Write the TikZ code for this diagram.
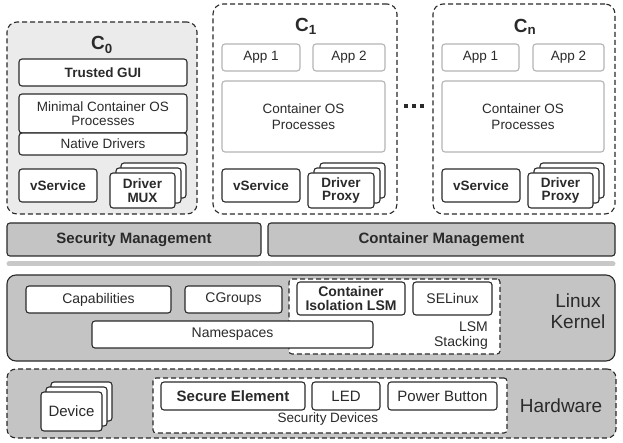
\documentclass[tikz,border=0pt]{standalone}
\usepackage{fontspec}
\setmainfont{Liberation Sans}
\definecolor{dk}{HTML}{2A2A2A}
\definecolor{midgray}{HTML}{C4C4C4}
\definecolor{lightfill}{HTML}{EBEBEB}
\definecolor{sepgray}{HTML}{C8C8C8}
\definecolor{litborder}{HTML}{B4B4B4}
\newcommand\fs[1]{\fontsize{#1}{#1}\selectfont}
\newcommand\bx[7]{\node[#1, anchor=north west, minimum width={(#5)-(#3)}, minimum height={(#6)-(#4)}] (#2) at (#3,#4) {#7};}
\tikzset{
  x=1pt, y=-1pt,
  base/.style={inner sep=1pt, outer sep=0pt, align=center, text=dk, line width=1.1pt},
  wbox/.style={base, draw=dk, fill=white, rounded corners=3pt, font=\fs{13.5}},
  wboxb/.style={wbox, font=\fs{13.5}\bfseries},
  kbox/.style={wbox, font=\fs{14}},
  kboxb/.style={wbox, font=\fs{14}\bfseries},
  hbox/.style={wbox, font=\fs{15}},
  hboxb/.style={wbox, font=\fs{15}\bfseries},
  lbox/.style={base, draw=litborder, fill=white, rounded corners=3pt, font=\fs{13.5}},
  contbox/.style={base, draw=dk, dash pattern=on 5pt off 3pt, rounded corners=10pt},
  mgmt/.style={base, draw=dk, fill=midgray, rounded corners=3pt, font=\fs{15}\bfseries},
  layer/.style={base, draw=dk, fill=midgray, rounded corners=9pt},
  dashwhite/.style={base, draw=dk, fill=white, dash pattern=on 5pt off 3pt, rounded corners=3pt},
  ctitle/.style={text=dk, font=\fs{19}\bfseries, inner sep=0pt},
  big/.style={text=dk, font=\fs{19}, align=center, inner sep=0pt},
  small/.style={text=dk, font=\fs{14}, align=right, inner sep=0pt},
}
\begin{document}
\begin{tikzpicture}
\useasboundingbox (0,0) rectangle (623,443);
\fill[white] (0,0) rectangle (623,443);

% ---------- C0 ----------
\bx{contbox, fill=lightfill}{c0}{7}{22}{197}{214}{}
\node[ctitle] (c0t) at (102,45) {C\textsubscript{0}};
\bx{wboxb}{tgui}{19}{59}{187}{86}{Trusted GUI}
\bx{wbox}{minos}{19}{94}{187}{133}{Minimal Container OS\\[1pt]Processes}
\bx{wbox}{natdrv}{19}{133}{187}{155}{Native Drivers}
\bx{wboxb}{vs0}{19}{169}{97}{202}{vService}
\bx{wbox}{mux2}{121}{163}{186}{198}{}
\bx{wbox}{mux1}{116}{168}{181}{203}{}
\bx{wboxb}{mux}{110}{173}{175}{208}{Driver\\MUX}

% ---------- C1 ----------
\bx{contbox}{c1}{213}{4}{397}{214}{}
\node[ctitle] (c1t) at (306,26) {C\textsubscript{1}};
\bx{lbox}{app11}{222}{44}{300}{71}{App 1}
\bx{lbox}{app12}{313}{44}{385}{71}{App 2}
\bx{lbox}{cos1}{222}{81}{385}{152}{Container OS\\[2pt]Processes}
\bx{wboxb}{vs1}{222}{169}{300}{202}{vService}
\bx{wbox}{px12}{320}{163}{385}{198}{}
\bx{wbox}{px11}{314}{168}{380}{203}{}
\bx{wboxb}{px1}{308}{173}{374}{208}{Driver\\Proxy}

% ---------- dots ----------
\foreach \dx/\nm in {406/d1,414/d2,422/d3}{
  \node[fill=dk, inner sep=0pt, minimum size=3.6pt] (\nm) at (\dx,106) {};
}

% ---------- Cn ----------
\bx{contbox}{cn}{433}{4}{615}{214}{}
\node[ctitle] (cnt) at (525,27) {C\textsubscript{n}};
\bx{lbox}{appn1}{442}{44}{519}{71}{App 1}
\bx{lbox}{appn2}{533}{44}{604}{71}{App 2}
\bx{lbox}{cosn}{442}{81}{604}{152}{Container OS\\[2pt]Processes}
\bx{wboxb}{vsn}{442}{169}{520}{202}{vService}
\bx{wbox}{pxn2}{540}{163}{604}{198}{}
\bx{wbox}{pxn1}{534}{168}{599}{203}{}
\bx{wboxb}{pxn}{528}{173}{593}{208}{Driver\\Proxy}

% ---------- management ----------
\bx{mgmt}{secm}{7}{223}{261}{256}{Security Management}
\bx{mgmt}{conm}{268}{223}{615}{256}{Container Management}

% ---------- separator ----------
\coordinate (sepL) at (9,264);
\coordinate (sepR) at (613,264);
\draw[sepgray, line width=5pt, line cap=round] (sepL) -- (sepR);

% ---------- Linux kernel ----------
\bx{layer}{kernel}{7}{275}{615}{361}{}
\bx{dashwhite}{lsm}{289}{279}{500}{354}{}
\bx{kbox}{caps}{26}{286}{171}{313}{Capabilities}
\bx{kbox}{cgr}{185}{286}{282}{313}{CGroups}
\bx{kboxb}{cil}{297}{282}{405}{315}{Container\\Isolation LSM}
\bx{kbox}{sel}{413}{282}{492}{315}{SELinux}
\bx{kbox}{ns}{92}{321}{373}{348}{Namespaces}
\node[small, anchor=east] (lsmt) at (488,336) {LSM\\[1pt]Stacking};
\node[big] (lk) at (578,311) {Linux\\[2pt]Kernel};

% ---------- Hardware ----------
\bx{layer, dash pattern=on 5pt off 3pt}{hw}{7}{369}{616}{438}{}
\bx{hbox}{dev2}{51}{382}{112}{421}{}
\bx{hbox}{dev1}{46}{387}{107}{426}{}
\bx{hbox}{dev}{41}{392}{102}{431}{Device}
\bx{dashwhite}{secdev}{153}{378}{507}{433}{}
\bx{hboxb}{se}{161}{382}{305}{410}{Secure Element}
\bx{hbox}{led}{312}{382}{380}{410}{LED}
\bx{hbox}{pb}{388}{382}{497}{410}{Power Button}
\node[text=dk, font=\fs{13.5}, inner sep=0pt] (sdt) at (328,419) {Security Devices};
\node[big] (hwt) at (561,406) {Hardware};
\end{tikzpicture}
\end{document}
